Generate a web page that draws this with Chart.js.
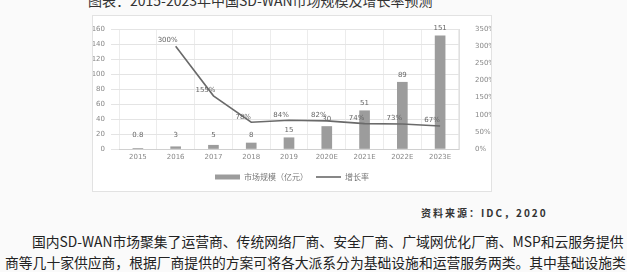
<!DOCTYPE html>
<html>
<head>
<meta charset="utf-8">
<script src="https://cdn.jsdelivr.net/npm/chart.js@4/dist/chart.umd.min.js"></script>
<style>
  html, body { margin: 0; padding: 0; }
  body { width: 627px; height: 272px; background: #fafafa; position: relative; overflow: hidden;
         font-family: "Noto Sans CJK SC", "Noto Sans", sans-serif; }
  #title { position: absolute; left: 88px; top: -10px; font-size: 14px; color: #333; white-space: nowrap; }
  #box { position: absolute; left: 92px; top: 15px; width: 400px; height: 177px;
         background: #fff; border: 1px solid #e2e2e2; box-sizing: border-box; }
  #box canvas { position: absolute; left: 0; top: 0; }
  #source { position: absolute; left: 421px; top: 205px; font-size: 10px; font-weight: bold;
            color: #333; letter-spacing: 2px; white-space: nowrap; }
  .para { position: absolute; font-size: 13.8px; color: #222; white-space: nowrap; }
</style>
</head>
<body>
<div id="title">图表：2015-2023年中国SD-WAN市场规模及增长率预测</div>
<div id="box"><canvas id="chart" width="398" height="175"></canvas></div>
<div id="source">资料来源：IDC，2020</div>
<div class="para" style="left:32px; top:231px;">国内SD-WAN市场聚集了运营商、传统网络厂商、安全厂商、广域网优化厂商、MSP和云服务提供</div>
<div class="para" style="left:5px; top:252px;">商等几十家供应商，根据厂商提供的方案可将各大派系分为基础设施和运营服务两类。其中基础设施类</div>
<script>
const years = ['2015', '2016', '2017', '2018', '2019', '2020E', '2021E', '2022E', '2023E']
const marketSize = [0.8, 3, 5, 8, 15, 30, 51, 89, 151]
const growthRate = [null, 300, 155, 78, 84, 82, 74, 73, 67]
const sizeTicks = [0, 20, 40, 60, 80, 100, 120, 140, 160]
const rateTicks = [0, 50, 100, 150, 200, 250, 300, 350]

const valueLabels = {
  id: 'valueLabels',
  afterDatasetsDraw(chart) {
    const ctx = chart.ctx
    ctx.save()
    ctx.font = '7px "DejaVu Sans", sans-serif'
    ctx.fillStyle = '#666'
    ctx.textAlign = 'center'
    ctx.textBaseline = 'bottom'
    chart.getDatasetMeta(0).data.forEach((bar, i) => {
      ctx.fillText(String(marketSize[i]), bar.x, Math.min(bar.y, chart.chartArea.bottom - 6) - 4)
    })
    chart.getDatasetMeta(1).data.forEach((pt, i) => {
      if (growthRate[i] == null) return
      ctx.fillText(growthRate[i] + '%', pt.x - 8, pt.y - 2)
    })
    ctx.restore()
  }
}

const tickFont = { family: '"DejaVu Sans", sans-serif', size: 7 }

new Chart(document.getElementById('chart'), {
  type: 'bar',
  data: {
    labels: years,
    datasets: [{
      label: '市场规模（亿元）',
      data: marketSize,
      backgroundColor: '#9c9c9c',
      barThickness: 10,
      yAxisID: 'y',
      order: 2,
      pointStyle: 'rect'
    }, {
      type: 'line',
      label: '增长率',
      data: growthRate,
      borderColor: '#6a6a6a',
      backgroundColor: '#6a6a6a',
      borderWidth: 1.6,
      pointRadius: 0,
      tension: 0,
      yAxisID: 'y1',
      order: 1,
      pointStyle: 'line'
    }]
  },
  options: {
    responsive: false,
    animation: false,
    layout: { padding: { top: 13, left: 0, right: 0, bottom: 0 } },
    plugins: {
      legend: {
        position: 'bottom',
        labels: {
          usePointStyle: true,
          pointStyleWidth: 25,
          boxHeight: 5,
          padding: 8,
          color: '#777',
          font: { family: '"Noto Sans CJK SC", sans-serif', size: 8 },
          sort: (a, b) => a.datasetIndex - b.datasetIndex
        }
      },
      tooltip: { enabled: false }
    },
    scales: {
      x: {
        grid: { color: '#ececec', offset: true, drawTicks: false },
        border: { color: '#d0d0d0' },
        ticks: { color: '#888', font: tickFont, maxRotation: 0, padding: 4 },
        afterFit: s => { s.height = 16 }
      },
      y: {
        position: 'left',
        min: 0, max: 160,
        afterBuildTicks: s => { s.ticks = sizeTicks.map(v => ({ value: v })) },
        grid: { color: '#e4e4e4' },
        border: { display: false },
        ticks: { color: '#888', font: tickFont, padding: 6 },
        afterFit: s => { s.width = 26 }
      },
      y1: {
        position: 'right',
        min: 0, max: 350,
        afterBuildTicks: s => { s.ticks = rateTicks.map(v => ({ value: v })) },
        grid: { display: false },
        border: { color: '#e0e0e0' },
        ticks: { color: '#888', font: tickFont, padding: 8, callback: v => v + '%' },
        afterFit: s => { s.width = 32 }
      }
    }
  },
  plugins: [valueLabels]
})
</script>
</body>
</html>
